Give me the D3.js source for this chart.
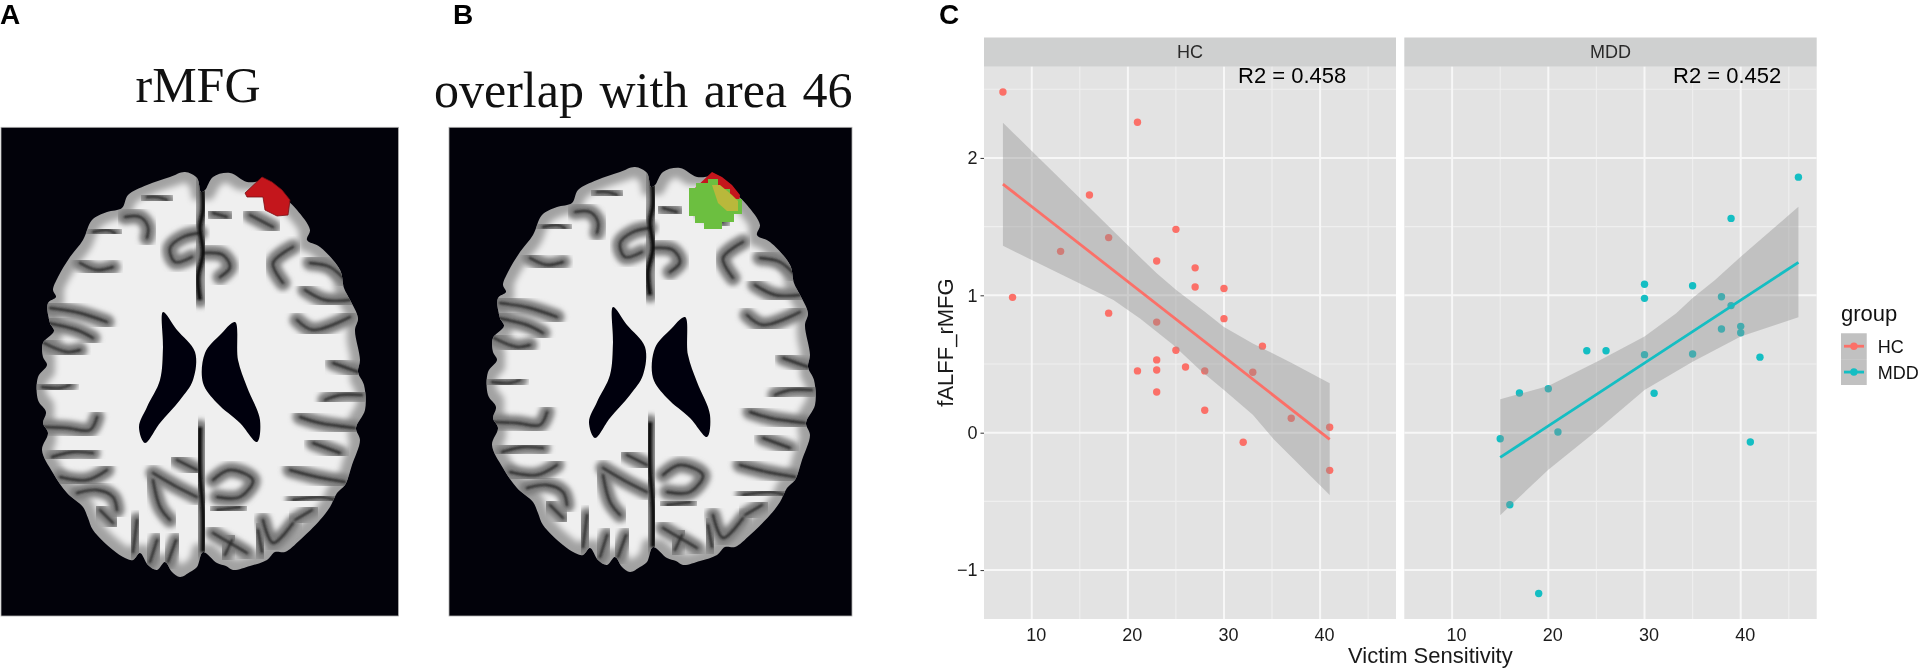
<!DOCTYPE html>
<html>
<head>
<meta charset="utf-8">
<script src="https://cdn.jsdelivr.net/npm/d3@7"></script>
<style>
  body { margin: 0; background: #fff; }
  svg { filter: blur(0.35px); }
  text { font-family: "Liberation Sans", Arial, sans-serif; }
  .serif { font-family: "Liberation Serif", "Times New Roman", serif; }
  .domain { display: none; }
</style>
</head>
<body>
<svg id="fig" width="1920" height="669" viewBox="0 0 1920 669"></svg>
<script>
// values
const groups = ["HC", "MDD"];
const hcX = [7, 21, 16, 18, 13, 23, 8, 18, 23, 23, 23, 21, 23, 25, 27, 27, 30, 30, 34, 25, 26, 28, 33, 28, 37, 41, 32, 41];
const hcY = [2.48, 2.26, 1.73, 1.42, 1.32, 1.25, 0.985, 0.87, 0.805, 0.53, 0.456, 0.45, 0.296, 1.48, 1.2, 1.06, 1.05, 0.83, 0.63, 0.6, 0.478, 0.45, 0.44, 0.163, 0.105, 0.04, -0.07, -0.274];
const mddX = [46, 39, 30, 35, 30, 38, 39, 38, 40, 40, 24, 26, 30, 35, 42, 17, 20, 31, 21, 15, 41, 16, 19];
const mddY = [1.86, 1.56, 1.08, 1.07, 0.978, 0.99, 0.925, 0.755, 0.774, 0.728, 0.597, 0.597, 0.568, 0.573, 0.55, 0.289, 0.32, 0.287, 0.005, -0.044, -0.068, -0.524, -1.17];

// fit lines and confidence bands
const hcLineX = [7, 41];
const hcLineY = [1.81, -0.048];
const mddLineX = [15, 46];
const mddLineY = [-0.18, 1.24];
const hcUpperX = [7, 10, 16, 21, 23, 25, 28, 30, 33, 37, 41];
const hcUpperY = [2.256, 2.05, 1.64, 1.295, 1.16, 1.04, 0.88, 0.77, 0.65, 0.51, 0.36];
const hcLowerX = [7, 18.5, 21.3, 24.7, 27.5, 30, 33, 35.2, 37, 41];
const hcLowerY = [1.36, 0.966, 0.83, 0.64, 0.456, 0.31, 0.13, -0.05, -0.175, -0.453];
const mddUpperX = [15, 20, 25.4, 30, 33.3, 35, 37.3, 40, 46];
const mddUpperY = [0.243, 0.34, 0.53, 0.7, 0.87, 0.98, 1.11, 1.28, 1.645];
const mddLowerX = [15, 20, 24.9, 30, 35, 40, 46];
const mddLowerY = [-0.6, -0.27, 0.007, 0.31, 0.517, 0.7, 0.84];

const xMajor = [10, 20, 30, 40];
const xMinor = [15, 25, 35, 45];
const yMajor = [-1, 0, 1, 2];
const yMinor = [-0.5, 0.5, 1.5, 2.5];
const r2Labels = ["R2 = 0.458", "R2 = 0.452"];

const RED = "#fb7068";
const TEAL = "#14bec3";
const PANEL_TOP = 66.7;
const PANEL_BOTTOM = 619;

const svg = d3.select("#fig");
const defs = svg.append("defs");

// ---- brain slices (A and B), hand traced shapes in A's pixel space ----
const outline = [[201,192],[197,178],[185,172],[170,177],[147,185],[128,195],[122,208],[107,212],[92,220],[83,240],[70,257],[58,277],[53,290],[56,297],[48,303],[50,323],[54,331],[43,343],[43,357],[47,365],[38,377],[38,400],[46,412],[43,423],[48,433],[42,450],[53,473],[67,493],[83,507],[88,518],[93,530],[113,550],[125,558],[133,560],[140,553],[148,565],[157,570],[165,562],[172,572],[180,577],[190,572],[197,567],[203,552],[217,563],[226,566],[233,570],[250,566],[267,560],[275,552],[285,552],[300,540],[320,520],[330,507],[337,493],[345,485],[352,465],[360,440],[356,428],[365,410],[364,385],[358,372],[360,360],[355,330],[358,318],[350,300],[344,288],[340,270],[320,247],[307,240],[310,230],[297,210],[287,200],[267,182],[247,182],[230,173],[213,177],[205,190]];
const sulci = [
  [[147,197],[157,197],[167,200]],
  [[125,217],[140,217],[148,227],[147,238]],
  [[93,232],[107,230],[115,233]],
  [[200,233],[183,237],[170,248],[175,262],[192,257]],
  [[213,213],[227,217]],
  [[203,253],[223,255],[230,267],[220,277]],
  [[250,215],[273,227]],
  [[80,263],[97,270],[113,267]],
  [[293,247],[273,263],[283,283]],
  [[310,263],[330,267],[345,280]],
  [[50,308],[80,313],[107,322]],
  [[48,323],[77,330],[93,338]],
  [[44,343],[67,352],[80,350]],
  [[42,387],[60,388],[70,385]],
  [[43,427],[67,428],[90,430],[97,417]],
  [[52,457],[73,452],[93,453]],
  [[60,477],[87,480],[107,470]],
  [[77,493],[97,490],[113,497],[117,510]],
  [[100,510],[113,523]],
  [[137,520],[133,552]],
  [[150,562],[157,540]],
  [[168,562],[176,540]],
  [[153,473],[177,487],[197,497]],
  [[153,480],[160,507],[170,520]],
  [[177,460],[197,470]],
  [[213,480],[230,470],[253,480],[240,497],[217,497]],
  [[217,510],[240,507]],
  [[213,533],[230,543],[247,553]],
  [[263,520],[273,543],[293,523]],
  [[290,470],[317,477],[345,482]],
  [[293,500],[320,497],[335,500]],
  [[300,417],[320,423],[355,428]],
  [[313,443],[340,453]],
  [[297,320],[313,330],[350,317]],
  [[333,363],[358,372]],
  [[350,300],[325,300],[305,290]],
  [[362,395],[340,395],[325,400]],
  [[225,555],[232,540]],
  [[262,552],[258,530]],
  [[312,510],[295,520]]
];
const fissure = [
  [[202,182],[203,210],[200,227],[203,253],[198,277],[200,300]],
  [[200,427],[200,473],[203,513],[203,552]]
];
const ventricles = [
  [[163,312],[177,330],[195,352],[193,380],[180,400],[160,423],[145,443],[139,427],[147,407],[160,380],[163,347]],
  [[235,322],[238,360],[247,387],[260,420],[257,442],[240,423],[217,403],[203,383],[205,353],[220,335]]
];
const roi = [[245,193],[262,177],[272,182],[282,190],[290,200],[288,215],[277,216],[265,210],[263,197],[247,197]];
const area46 = [[239,193],[246,193],[246,188],[258,188],[258,184],[268,184],[268,194],[280,194],[280,204],[292,204],[292,219],[284,219],[284,227],[272,227],[272,234],[254,234],[254,228],[245,228],[245,221],[239,221]];
const overlapPatch = [[262,190],[270,190],[282,200],[288,206],[288,216],[277,216],[268,208]];

const closed = d3.line().curve(d3.curveCatmullRomClosed.alpha(0.5));
const open = d3.line().curve(d3.curveCatmullRom.alpha(0.5));
const poly = d3.line().curve(d3.curveLinearClosed);

function blurFilter(id, dev) {
  defs.append("filter").attr("id", id)
    .attr("x", "-30%").attr("y", "-30%").attr("width", "160%").attr("height", "160%")
    .append("feGaussianBlur").attr("stdDeviation", dev);
}
blurFilter("soft", 0.6);
blurFilter("halo", 2.4);
blurFilter("core", 1);

const wm = defs.append("filter").attr("id", "whiteMatter")
  .attr("x", "-5%").attr("y", "-5%").attr("width", "110%").attr("height", "110%");
wm.append("feMorphology").attr("operator", "erode").attr("radius", 8);
wm.append("feGaussianBlur").attr("stdDeviation", 3);

defs.append("clipPath").attr("id", "brainClip").append("path").attr("d", closed(outline));
defs.append("clipPath").attr("id", "areaClip").append("path").attr("d", poly(area46));

function drawBrain(dx, dy, rectX, rectW) {
  svg.append("rect")
    .attr("x", rectX).attr("y", 127.3).attr("width", rectW).attr("height", 488.7)
    .attr("fill", "#02020a").attr("stroke", "#b0b0b0").attr("stroke-width", 0.8);

  const g = svg.append("g").attr("transform", `translate(${dx},${dy})`);
  g.append("path").attr("d", closed(outline)).attr("fill", "#a2a2a2").attr("filter", "url(#soft)");
  g.append("path").attr("d", closed(outline)).attr("fill", "#efefef").attr("filter", "url(#whiteMatter)");

  const inner = g.append("g").attr("clip-path", "url(#brainClip)");
  inner.selectAll(".halo").data(sulci.concat(fissure)).enter().append("path")
    .attr("class", "halo").attr("d", open)
    .attr("fill", "none").attr("stroke", "#7c7c7c").attr("stroke-width", 15)
    .attr("stroke-linecap", "round").attr("filter", "url(#halo)");
  inner.selectAll(".core").data(sulci).enter().append("path")
    .attr("class", "core").attr("d", open)
    .attr("fill", "none").attr("stroke", "#2a2a2a").attr("stroke-width", 2.4)
    .attr("stroke-linecap", "round").attr("filter", "url(#core)");
  inner.selectAll(".fissure").data(fissure).enter().append("path")
    .attr("class", "fissure").attr("d", open)
    .attr("fill", "none").attr("stroke", "#0c0c0c").attr("stroke-width", 4.5)
    .attr("filter", "url(#core)");
  g.selectAll(".vent").data(ventricles).enter().append("path")
    .attr("class", "vent").attr("d", closed).attr("fill", "#02020a").attr("filter", "url(#soft)");
  return g;
}

const brainA = drawBrain(0, 0, 1, 397.5);
brainA.append("path").attr("d", poly(roi)).attr("fill", "#c4161c").attr("stroke", "#7a1014").attr("stroke-width", 0.8);

const brainB = drawBrain(450, -5, 449, 403);
brainB.append("path").attr("d", poly(roi)).attr("fill", "#c4161c");
brainB.append("path").attr("d", poly(area46)).attr("fill", "#6cbf3f").attr("filter", "url(#soft)");
brainB.append("path").attr("d", poly(overlapPatch)).attr("fill", "#b9b83a").attr("filter", "url(#soft)");

svg.append("text").attr("class", "serif").attr("x", 198).attr("y", 102)
  .attr("text-anchor", "middle").attr("font-size", 50).attr("fill", "#111").text("rMFG");
svg.append("text").attr("class", "serif").attr("x", 434).attr("y", 106.7)
  .attr("font-size", 50).attr("word-spacing", 3).attr("fill", "#111").text("overlap with area 46");

const panelLabels = [["A", 0, 23.5], ["B", 453, 23.5], ["C", 939, 23.5]];
svg.selectAll(".plabel").data(panelLabels).enter().append("text")
  .attr("class", "plabel")
  .attr("x", d => d[1]).attr("y", d => d[2])
  .attr("font-size", 28).attr("font-weight", "bold").attr("fill", "#000")
  .text(d => d[0]);

// ---- scatter panels (C) ----
const y = d3.scaleLinear().domain([-1.356, 2.664]).range([PANEL_BOTTOM, PANEL_TOP]);
const xHC = d3.scaleLinear().domain([5.03, 47.9]).range([984, 1396]);
const xMDD = d3.scaleLinear().domain([5.03, 47.9]).range([1404.3, 1816.7]);

function drawPanel(name, x, r2, r2x, cx, cy, color, lineX, lineY, upX, upY, loX, loY) {
  const [left, right] = x.range();
  const g = svg.append("g");

  g.append("rect").attr("x", left).attr("y", PANEL_TOP)
    .attr("width", right - left).attr("height", PANEL_BOTTOM - PANEL_TOP).attr("fill", "#e3e3e3");
  g.append("rect").attr("x", left).attr("y", 37.5)
    .attr("width", right - left).attr("height", PANEL_TOP - 37.5).attr("fill", "#cfd0d0");
  g.append("text").attr("x", (left + right) / 2).attr("y", 58.3)
    .attr("text-anchor", "middle").attr("font-size", 18).attr("fill", "#2a2a2a").text(name);

  // minor grid first, then major on top
  yMinor.forEach(v => g.append("line").attr("x1", left).attr("x2", right)
    .attr("y1", y(v)).attr("y2", y(v)).attr("stroke", "#efefef").attr("stroke-width", 1.1));
  xMinor.forEach(v => g.append("line").attr("y1", PANEL_TOP).attr("y2", PANEL_BOTTOM)
    .attr("x1", x(v)).attr("x2", x(v)).attr("stroke", "#efefef").attr("stroke-width", 1.1));
  yMajor.forEach(v => g.append("line").attr("x1", left).attr("x2", right)
    .attr("y1", y(v)).attr("y2", y(v)).attr("stroke", "#f7f7f7").attr("stroke-width", 2));
  xMajor.forEach(v => g.append("line").attr("y1", PANEL_TOP).attr("y2", PANEL_BOTTOM)
    .attr("x1", x(v)).attr("x2", x(v)).attr("stroke", "#f7f7f7").attr("stroke-width", 2));

  g.selectAll(".pt").data(d3.zip(cx, cy)).enter().append("circle")
    .attr("class", "pt").attr("cx", d => x(d[0])).attr("cy", d => y(d[1]))
    .attr("r", 3.7).attr("fill", color);

  // band goes over the points, same as geom_smooth
  const band = d3.zip(upX, upY).map(d => [x(d[0]), y(d[1])])
    .concat(d3.zip(loX, loY).reverse().map(d => [x(d[0]), y(d[1])]));
  g.append("path").attr("d", poly(band)).attr("fill", "#8f8f8f").attr("fill-opacity", 0.4);

  const fit = d3.line().x(d => x(d[0])).y(d => y(d[1]));
  g.append("path").attr("d", fit(d3.zip(lineX, lineY)))
    .attr("fill", "none").attr("stroke", color).attr("stroke-width", 2.8);

  g.append("text").attr("x", r2x).attr("y", 82.7)
    .attr("font-size", 22).attr("fill", "#000").text(r2);

  const axis = d3.axisBottom(x).tickValues(xMajor).tickSize(0).tickPadding(4);
  const ax = svg.append("g").attr("transform", `translate(0,${PANEL_BOTTOM})`).call(axis);
  ax.selectAll("text").attr("font-size", 18).attr("dx", 4).attr("y", 9)
    .attr("fill", "#1c1c1c").style("font-family", '"Liberation Sans", Arial, sans-serif');
}

drawPanel(groups[0], xHC, r2Labels[0], 1238, hcX, hcY, RED, hcLineX, hcLineY, hcUpperX, hcUpperY, hcLowerX, hcLowerY);
drawPanel(groups[1], xMDD, r2Labels[1], 1673, mddX, mddY, TEAL, mddLineX, mddLineY, mddUpperX, mddUpperY, mddLowerX, mddLowerY);

const yAxis = d3.axisLeft(y).tickValues(yMajor).tickFormat(d3.format("d")).tickSize(3.5).tickPadding(3);
const yAx = svg.append("g").attr("transform", "translate(984,0)").call(yAxis);
yAx.selectAll("text").attr("font-size", 18).attr("fill", "#1c1c1c")
  .style("font-family", '"Liberation Sans", Arial, sans-serif');
yAx.selectAll("line").attr("stroke", "#333");

svg.append("text").attr("x", 1348).attr("y", 662.7)
  .attr("font-size", 22).attr("fill", "#1a1a1a").text("Victim Sensitivity");
svg.append("text").attr("transform", "translate(952.7,342.5) rotate(-90)")
  .attr("text-anchor", "middle").attr("font-size", 22).attr("fill", "#1a1a1a").text("fALFF_rMFG");

// ---- legend ----
svg.append("text").attr("x", 1841).attr("y", 320.7).attr("font-size", 22).attr("fill", "#111").text("group");
const legendY = d3.scaleBand().domain(groups).range([333.3, 385]);
const legendColor = d3.scaleOrdinal().domain(groups).range([RED, TEAL]);
const key = svg.selectAll(".key").data(groups).enter().append("g").attr("class", "key")
  .attr("transform", d => `translate(1841,${legendY(d)})`);
key.append("rect").attr("width", 25.7).attr("height", legendY.bandwidth()).attr("fill", "#e3e3e3");
key.append("rect").attr("width", 25.7).attr("height", legendY.bandwidth()).attr("fill", "#8f8f8f").attr("fill-opacity", 0.4);
key.append("line").attr("x1", 3).attr("x2", 23).attr("y1", legendY.bandwidth() / 2).attr("y2", legendY.bandwidth() / 2)
  .attr("stroke", d => legendColor(d)).attr("stroke-width", 2.8);
key.append("circle").attr("cx", 12.9).attr("cy", legendY.bandwidth() / 2).attr("r", 3.7)
  .attr("fill", d => legendColor(d));
key.append("text").attr("x", 36.7).attr("y", legendY.bandwidth() / 2 + 6.5)
  .attr("font-size", 18).attr("fill", "#111").text(d => d);
</script>
</body>
</html>
